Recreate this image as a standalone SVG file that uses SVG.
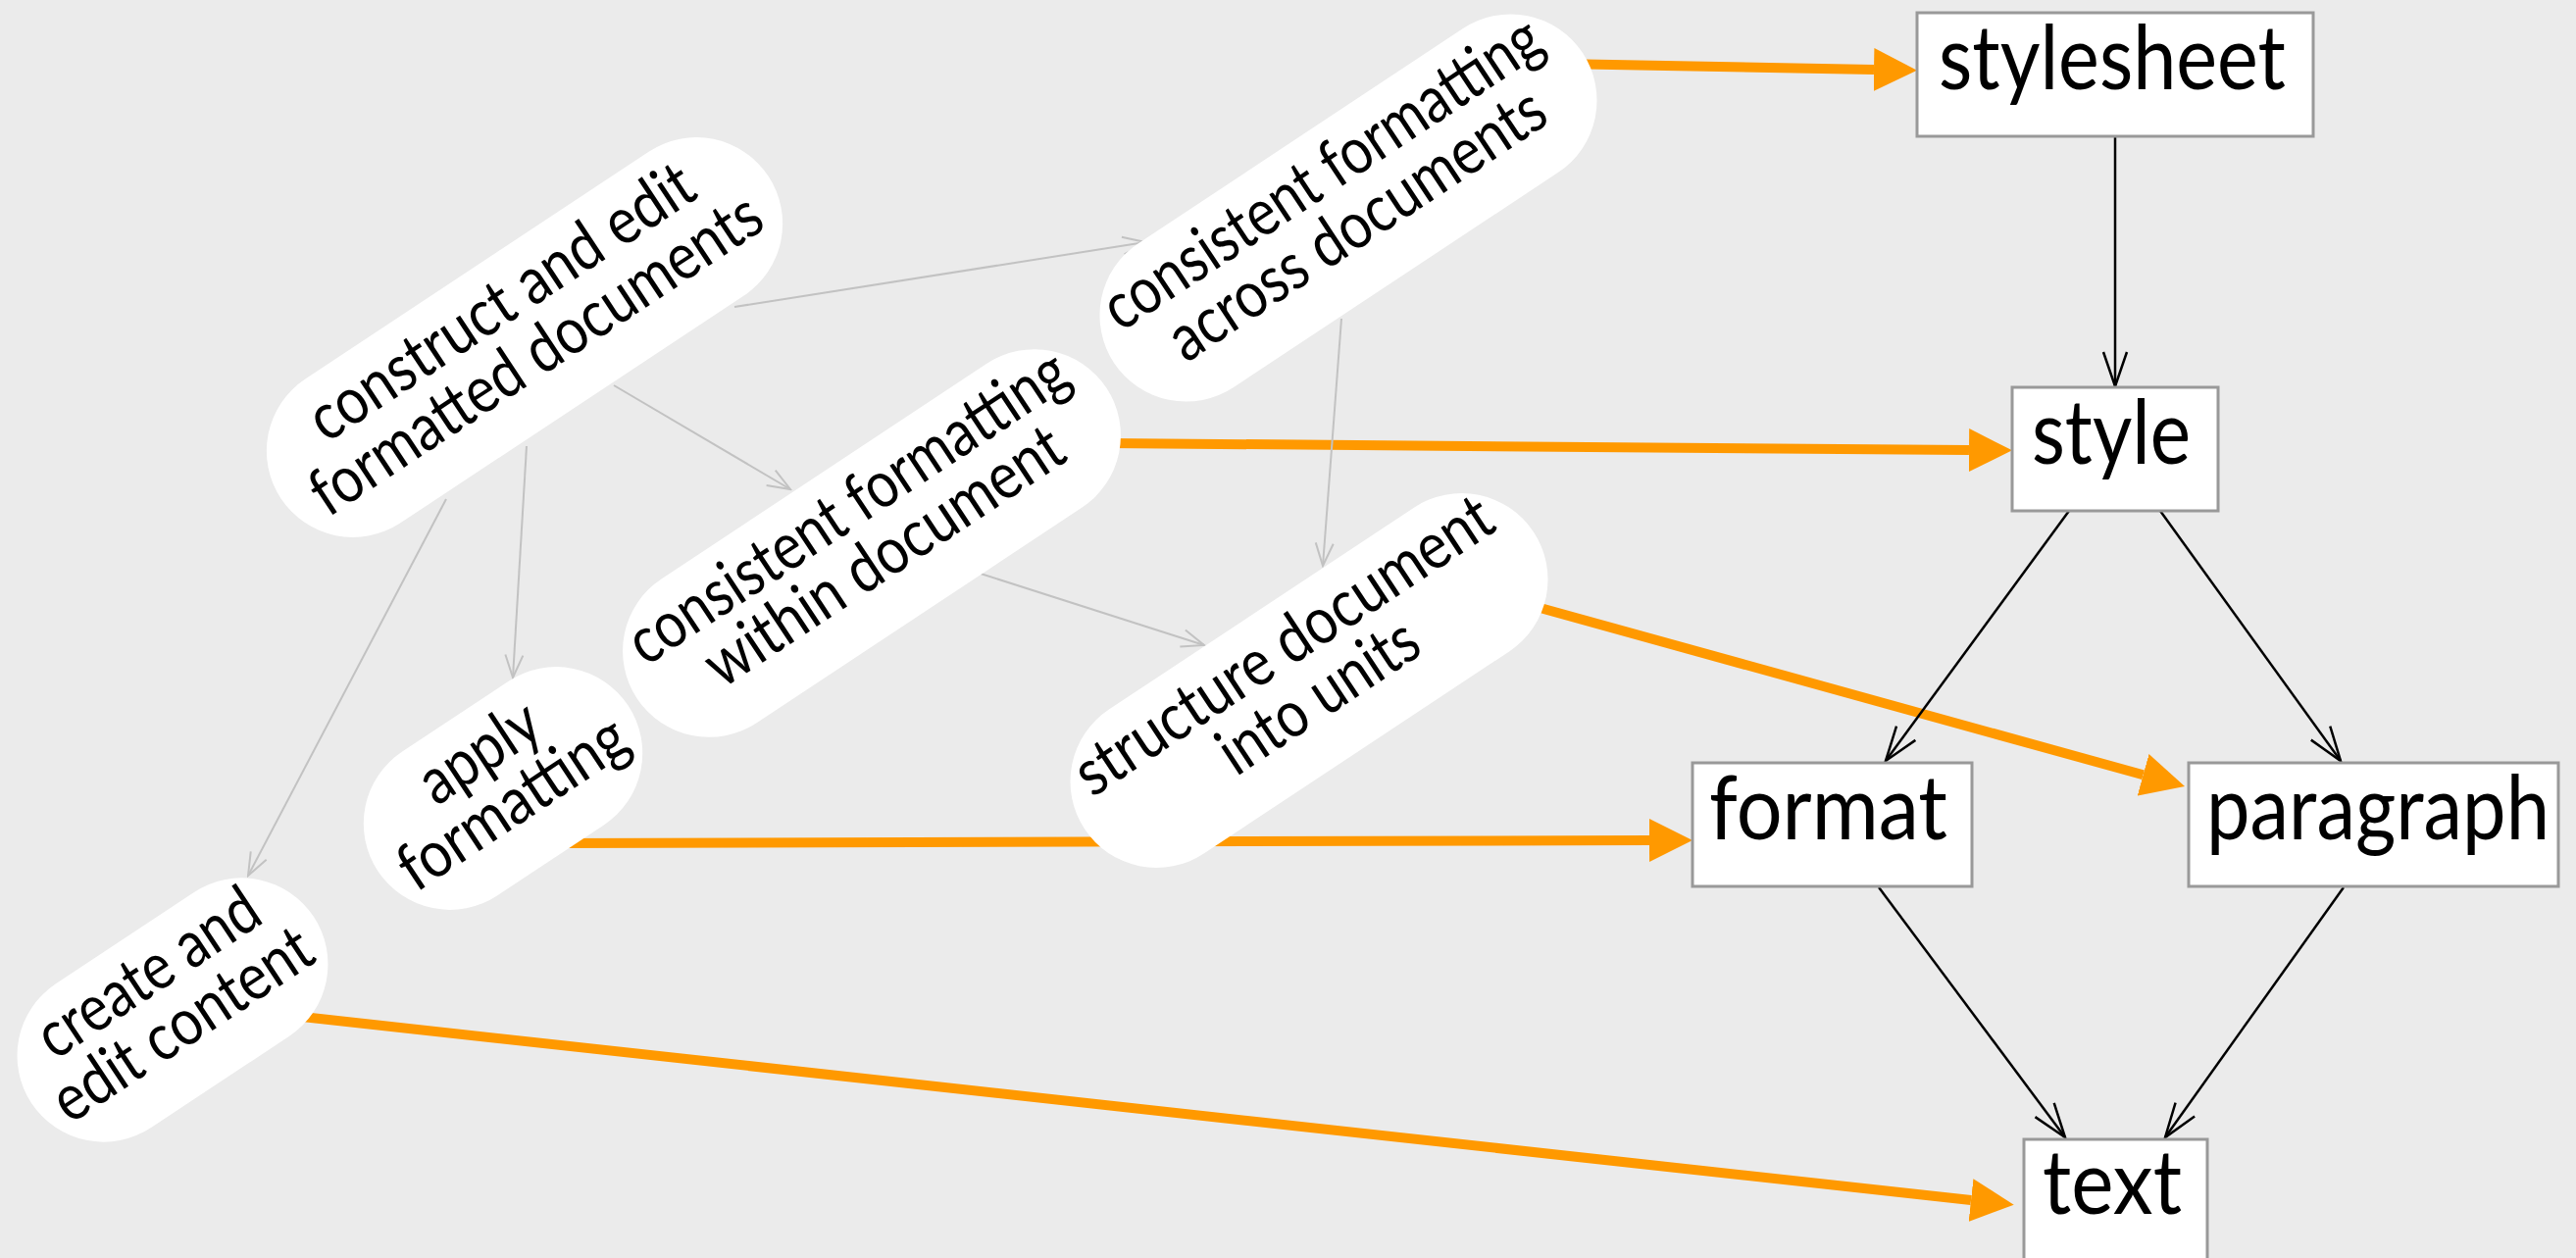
<svg xmlns="http://www.w3.org/2000/svg" width="2627" height="1283" viewBox="0 0 2627 1283">
  <style>
    .bg { fill: #ebebeb; }
    .box rect { fill: #ffffff; stroke: #999999; stroke-width: 3; }
    .box text { font-family: Lato, "Open Sans", sans-serif; font-size: 92px; fill: #000; text-anchor: middle; }
    .pill rect { fill: #ffffff; stroke: none; }
    .pill text { font-family: Lato, "Open Sans", sans-serif; font-size: 67px; fill: #000; text-anchor: middle; }
    .e-black { stroke: #000; stroke-width: 2.5; fill: none; marker-end: url(#head-black); }
    .e-gray { stroke: #c2c2c2; stroke-width: 2; fill: none; marker-end: url(#head-gray); }
    .e-orange { stroke: #ff9900; stroke-width: 10; fill: none; marker-end: url(#head-orange); }
  </style>
  <defs>
    <marker id="head-black" markerUnits="userSpaceOnUse" viewBox="0 0 38 28" markerWidth="38" markerHeight="28" refX="36" refY="14" orient="auto">
      <path d="M1,2 L36,14 L1,26" fill="none" stroke="#000" stroke-width="2.5"/>
    </marker>
    <marker id="head-gray" markerUnits="userSpaceOnUse" viewBox="0 0 26 22" markerWidth="26" markerHeight="22" refX="24" refY="11" orient="auto">
      <path d="M1,2 L24,11 L1,20" fill="none" stroke="#c2c2c2" stroke-width="2"/>
    </marker>
    <marker id="head-orange" markerUnits="userSpaceOnUse" viewBox="0 0 44 44" markerWidth="44" markerHeight="44" refX="0" refY="22" orient="auto">
      <path d="M0,0 L44,22 L0,44 Z" fill="#ff9900"/>
    </marker>
  </defs>

  <rect class="bg" x="0" y="0" width="2627" height="1283"/>

  <!-- connectors -->
  <g id="connectors">
    <path class="e-orange" d="M1590,65 L1911,71"/>
    <path class="e-orange" d="M1130,452 L2008,459"/>
    <path class="e-orange" d="M570,860 L1682,857"/>
    <path class="e-orange" d="M1540,611.5 L2185.6,790.3"/>
    <path class="e-orange" d="M290,1035 L2010,1224"/>

    <path class="e-gray" d="M749,313 L1168,247"/>
    <path class="e-gray" d="M626,393 L806,499"/>
    <path class="e-gray" d="M537,455 L523,691"/>
    <path class="e-gray" d="M455,509 L253,893"/>
    <path class="e-gray" d="M1368,325 L1349,577"/>
    <path class="e-gray" d="M1000,585 L1228,658"/>

    <path class="e-black" d="M2157,139 L2157,394"/>
    <path class="e-black" d="M2110,521 L1923,776"/>
    <path class="e-black" d="M2203,521 L2387,776"/>
    <path class="e-black" d="M1916,905 L2106,1160"/>
    <path class="e-black" d="M2390,905 L2208,1160"/>
  </g>

  <!-- activity nodes -->
  <g id="construct" class="pill" transform="translate(535,344) rotate(-33.5)">
    <rect x="-298" y="-88" width="596" height="176" rx="88"/>
    <text y="-21" textLength="457" lengthAdjust="spacingAndGlyphs">construct and edit</text>
    <text y="43" textLength="538" lengthAdjust="spacingAndGlyphs">formatted documents</text>
  </g>
  <g id="across" class="pill" transform="translate(1375,212) rotate(-33.5)">
    <rect x="-286.5" y="-88" width="573" height="176" rx="88"/>
    <text x="-3" y="-22" textLength="522" lengthAdjust="spacingAndGlyphs">consistent formatting</text>
    <text x="-2" y="41" textLength="447" lengthAdjust="spacingAndGlyphs">across documents</text>
  </g>
  <g id="within" class="pill" transform="translate(889,554) rotate(-33.5)">
    <rect x="-287" y="-88" width="574" height="176" rx="88"/>
    <text y="-22" textLength="524" lengthAdjust="spacingAndGlyphs">consistent formatting</text>
    <text x="3" y="40" textLength="425" lengthAdjust="spacingAndGlyphs">within document</text>
  </g>
  <g id="structure" class="pill" transform="translate(1335,694) rotate(-33.5)">
    <rect x="-274.5" y="-88" width="549" height="176" rx="88"/>
    <text x="-2" y="-22" textLength="497" lengthAdjust="spacingAndGlyphs">structure document</text>
    <text x="-1" y="41" textLength="231" lengthAdjust="spacingAndGlyphs">into units</text>
  </g>
  <g id="apply" class="pill" transform="translate(513,804) rotate(-33.5)">
    <rect x="-153" y="-88" width="306" height="176" rx="88"/>
    <text y="-22" textLength="134" lengthAdjust="spacingAndGlyphs">apply</text>
    <text y="40" textLength="266" lengthAdjust="spacingAndGlyphs">formatting</text>
  </g>
  <g id="create" class="pill" transform="translate(176,1030) rotate(-33.5)">
    <rect x="-172.5" y="-88" width="345" height="176" rx="88"/>
    <text y="-23" textLength="258" lengthAdjust="spacingAndGlyphs">create and</text>
    <text y="40" textLength="304" lengthAdjust="spacingAndGlyphs">edit content</text>
  </g>

  <!-- concept nodes -->
  <g id="stylesheet" class="box">
    <rect x="1955" y="13" width="404" height="126"/>
    <text x="2154" y="91" textLength="354" lengthAdjust="spacingAndGlyphs">stylesheet</text>
  </g>
  <g id="style" class="box">
    <rect x="2052" y="395" width="210" height="126"/>
    <text x="2153" y="473" textLength="162" lengthAdjust="spacingAndGlyphs">style</text>
  </g>
  <g id="format" class="box">
    <rect x="1726" y="778" width="285" height="126"/>
    <text x="1864.5" y="856" textLength="243" lengthAdjust="spacingAndGlyphs">format</text>
  </g>
  <g id="paragraph" class="box">
    <rect x="2232" y="778" width="377" height="126"/>
    <text x="2425" y="856" textLength="350" lengthAdjust="spacingAndGlyphs">paragraph</text>
  </g>
  <g id="text" class="box">
    <rect x="2064" y="1162" width="187" height="126"/>
    <text x="2154" y="1238" textLength="142" lengthAdjust="spacingAndGlyphs">text</text>
  </g>
</svg>
